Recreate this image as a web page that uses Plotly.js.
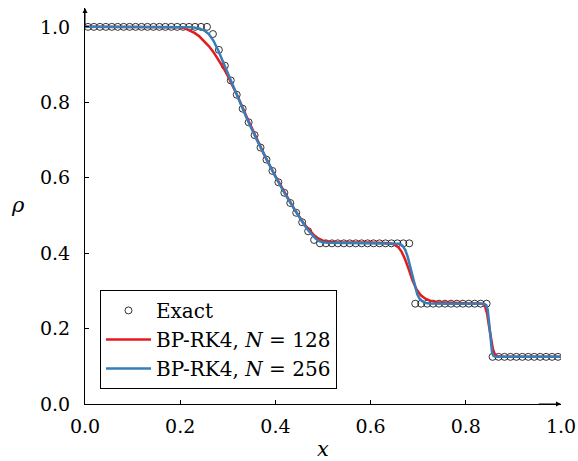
<!DOCTYPE html>
<html>
<head>
<meta charset="utf-8">
<script src="https://cdn.plot.ly/plotly-3.0.1.min.js"></script>
<style>html,body{margin:0;padding:0;background:#fff;}#chart{width:578px;height:461px;}</style>
</head>
<body>
<div id="chart"></div>
<script>
// Exact solution samples
const exactX = [
0.00625,0.01875,0.03125,0.04375,0.05625,0.06875,0.08125,0.09375,0.10625,0.11875,
0.13125,0.14375,0.15625,0.16875,0.18125,0.19375,0.20625,0.21875,0.23125,0.24375,
0.25625,0.26875,0.28125,0.29375,0.30625,0.31875,0.33125,0.34375,0.35625,0.36875,
0.38125,0.39375,0.40625,0.41875,0.43125,0.44375,0.45625,0.46875,0.48125,0.49375,
0.50625,0.51875,0.53125,0.54375,0.55625,0.56875,0.58125,0.59375,0.60625,0.61875,
0.63125,0.64375,0.65625,0.66875,0.68125,0.69375,0.70625,0.71875,0.73125,0.74375,
0.75625,0.76875,0.78125,0.79375,0.80625,0.81875,0.83125,0.84375,0.85625,0.86875,
0.88125,0.89375,0.90625,0.91875,0.93125,0.94375,0.95625,0.96875,0.98125,0.99375];
const exactRho = [
1,1,1,1,1,1,1,1,1,1,
1,1,1,1,1,1,1,1,1,1,
1,0.981,0.939,0.897,0.858,0.820,0.783,0.747,0.713,0.680,
0.648,0.618,0.588,0.560,0.533,0.507,0.482,0.458,0.435,0.426,
0.426,0.426,0.426,0.426,0.426,0.426,0.426,0.426,0.426,0.426,
0.426,0.426,0.426,0.426,0.426,0.266,0.266,0.266,0.266,0.266,
0.266,0.266,0.266,0.266,0.266,0.266,0.266,0.266,0.125,0.125,
0.125,0.125,0.125,0.125,0.125,0.125,0.125,0.125,0.125,0.125];

// BP-RK4, N = 128
const n128X = [0,0.19,0.2,0.21,0.22,0.23,0.24,0.25,0.26,0.27,0.28,0.29,0.30,0.31,0.32,0.34,0.36,0.38,0.40,0.42,0.44,0.46,0.47,0.48,0.49,0.50,0.51,0.53,0.60,0.63,0.64,0.65,0.658,0.665,0.672,0.68,0.688,0.696,0.705,0.715,0.725,0.74,0.77,0.80,0.83,0.836,0.841,0.845,0.849,0.853,0.857,0.861,0.866,0.875,1.0];
const n128Rho = [1,1,0.999,0.996,0.991,0.984,0.975,0.963,0.949,0.933,0.914,0.893,0.87,0.845,0.818,0.76,0.704,0.652,0.604,0.558,0.516,0.478,0.462,0.449,0.439,0.433,0.43,0.4285,0.428,0.4275,0.426,0.423,0.416,0.404,0.385,0.358,0.328,0.305,0.289,0.279,0.274,0.27,0.268,0.267,0.2665,0.265,0.257,0.238,0.205,0.17,0.145,0.132,0.127,0.125,0.125];

// BP-RK4, N = 256
const n256X = [0,0.21,0.225,0.24,0.25,0.26,0.27,0.28,0.29,0.30,0.32,0.34,0.36,0.38,0.40,0.42,0.44,0.46,0.47,0.478,0.485,0.492,0.50,0.51,0.55,0.60,0.65,0.66,0.667,0.673,0.678,0.683,0.688,0.693,0.698,0.703,0.709,0.716,0.725,0.76,0.80,0.838,0.843,0.846,0.849,0.852,0.855,0.858,0.862,0.87,0.93,1.0];
const n256Rho = [1,1,0.999,0.996,0.991,0.981,0.963,0.937,0.907,0.875,0.815,0.757,0.703,0.651,0.603,0.557,0.515,0.476,0.459,0.447,0.438,0.432,0.429,0.4275,0.427,0.427,0.4265,0.425,0.42,0.408,0.39,0.365,0.336,0.31,0.291,0.279,0.272,0.268,0.2665,0.266,0.266,0.2655,0.262,0.25,0.215,0.17,0.138,0.128,0.1255,0.125,0.125,0.125];

const xTicks = [0, 0.2, 0.4, 0.6, 0.8, 1.0];
const xTickText = ['0.0','0.2','0.4','0.6','0.8','1.0'];
const yTicks = [0, 0.2, 0.4, 0.6, 0.8, 1.0];
const yTickText = ['0.0','0.2','0.4','0.6','0.8','1.0'];

const FONT = '"DejaVu Serif", "Liberation Serif", serif';

const traces = [
  {x: exactX, y: exactRho, mode: 'markers', name: 'Exact', type: 'scatter',
   marker: {symbol: 'circle-open', size: 7, color: '#000', line: {width: 0.8, color: '#000'}}},
  {x: n128X, y: n128Rho, mode: 'lines', name: 'BP-RK4, <i>N</i> = 128', type: 'scatter',
   line: {color: '#e41a1c', width: 2.5}},
  {x: n256X, y: n256Rho, mode: 'lines', name: 'BP-RK4, <i>N</i> = 256', type: 'scatter',
   line: {color: '#377eb8', width: 2.5}}
];

const layout = {
  width: 578, height: 461,
  margin: {l: 85, r: 17, t: 8, b: 57},
  paper_bgcolor: '#fff', plot_bgcolor: '#fff',
  font: {family: FONT, size: 19, color: '#000'},
  showlegend: true,
  xaxis: {range: [0, 1.0], tickvals: xTicks, ticktext: xTickText, showgrid: false, zeroline: false,
          showline: true, linecolor: '#000', linewidth: 1, ticks: 'inside', ticklen: 4, tickcolor: '#000',
          tickfont: {family: FONT, size: 19}, ticklabelstandoff: 5},
  yaxis: {range: [0, 1.05], tickvals: yTicks, ticktext: yTickText, showgrid: false, zeroline: false,
          showline: true, linecolor: '#000', linewidth: 1, ticks: 'inside', ticklen: 4, tickcolor: '#000',
          tickfont: {family: FONT, size: 19}, ticklabelstandoff: 10},
  legend: {x: 0.0315, y: 0.038, xanchor: 'left', yanchor: 'bottom', bordercolor: '#000', borderwidth: 1,
           bgcolor: '#fff', font: {family: FONT, size: 20}, tracegroupgap: 0, itemwidth: 45},
  annotations: [
    {x: 1.0, y: 0, xref: 'x', yref: 'y', ax: 0.95, ay: 0, axref: 'x', ayref: 'y', text: '', showarrow: true,
     arrowhead: 2, arrowsize: 1, arrowwidth: 1, arrowcolor: '#000', standoff: 0},
    {x: 0, y: 1.05, xref: 'x', yref: 'y', ax: 0, ay: 1.0, axref: 'x', ayref: 'y', text: '', showarrow: true,
     arrowhead: 2, arrowsize: 1, arrowwidth: 1, arrowcolor: '#000', standoff: 0},
    {x: 0.5, y: -0.113, xref: 'paper', yref: 'paper', text: '<i>x</i>', showarrow: false,
     xanchor: 'center', yanchor: 'middle', font: {family: FONT, size: 21}},
    {x: -0.141, y: 0.5025, xref: 'paper', yref: 'paper', text: '<i>ρ</i>', showarrow: false,
     xanchor: 'center', yanchor: 'middle', font: {family: FONT, size: 21}}
  ]
};

Plotly.newPlot('chart', traces, layout, {displayModeBar: false, staticPlot: true});
</script>
</body>
</html>
